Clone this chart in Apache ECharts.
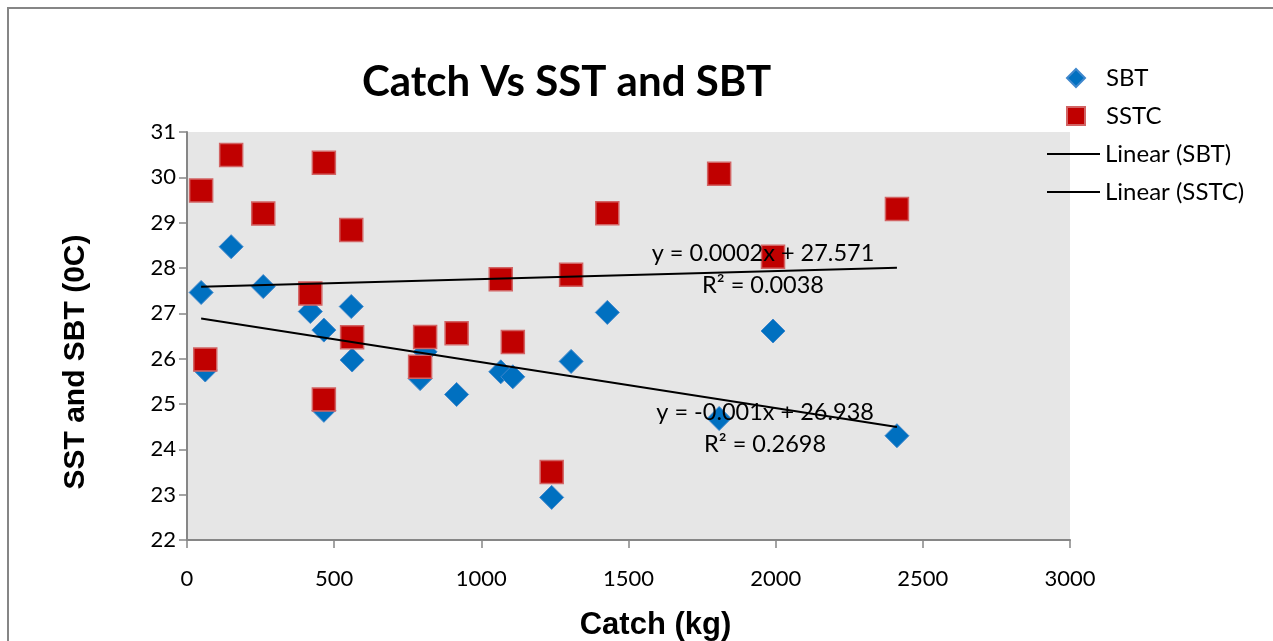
<!DOCTYPE html>
<html>
<head>
<meta charset="utf-8">
<title>Catch Vs SST and SBT</title>
<script src="https://cdn.jsdelivr.net/npm/echarts@6/dist/echarts.min.js"></script>
<style>
  html, body { margin: 0; padding: 0; background: #fff; }
  #chart { width: 1273px; height: 641px; }
</style>
</head>
<body>
<div id="chart"></div>
<script>
// catch (kg) per haul, shared by both temperature series
var catchKg = [48, 62, 150, 259, 419, 465, 465, 558, 561, 792, 809, 916, 1066, 1107, 1239, 1305, 1428, 1808, 1991, 2412];
// bottom temperature
var sbt = [27.46, 25.75, 28.47, 27.59, 27.04, 26.63, 24.86, 27.15, 25.97, 25.56, 26.15, 25.21, 25.71, 25.60, 22.94, 25.94, 27.02, 24.68, 26.61, 24.30];
// surface temperature
var sstc = [29.71, 25.98, 30.49, 29.20, 27.44, 30.32, 25.10, 28.84, 26.47, 25.82, 26.48, 26.56, 27.75, 26.37, 23.50, 27.85, 29.21, 30.08, 28.25, 29.30];

var xTicks = [0, 500, 1000, 1500, 2000, 2500, 3000];
var yTicks = [22, 23, 24, 25, 26, 27, 28, 29, 30, 31];

// equation text as printed next to the trend lines
var sbtEq = 'y = -0.001x + 26.938\nR² = 0.2698';
var sstcEq = 'y = 0.0002x + 27.571\nR² = 0.0038';

function pairs(xs, ys) {
  return xs.map(function (x, i) { return [x, ys[i]]; });
}

// least squares fit, drawn from the smallest to the largest catch
function trend(xs, ys) {
  var n = xs.length, mx = 0, my = 0, sxy = 0, sxx = 0;
  for (var i = 0; i < n; i++) { mx += xs[i]; my += ys[i]; }
  mx /= n; my /= n;
  for (var j = 0; j < n; j++) {
    sxy += (xs[j] - mx) * (ys[j] - my);
    sxx += (xs[j] - mx) * (xs[j] - mx);
  }
  var b = sxy / sxx, a = my - b * mx;
  var x0 = Math.min.apply(null, xs), x1 = Math.max.apply(null, xs);
  return [[x0, a + b * x0], [x1, a + b * x1]];
}

var labelFont = { fontFamily: 'Lato', fontSize: 23.5, color: '#000', lineHeight: 32 };

function eqPoint(coord, text) {
  return {
    symbol: 'circle',
    symbolSize: 0,
    silent: true,
    label: Object.assign({ show: true, position: 'inside', align: 'center', formatter: text }, labelFont),
    data: [{ coord: coord }]
  };
}

// legend glyph for the trend lines: a plain stroke
var lineIcon = 'path://M0,0 L53,0 L53,2 L0,2 Z';
var legendText = { fontFamily: 'Lato', fontSize: 24, color: '#000', lineHeight: 24 };

var chart = echarts.init(document.getElementById('chart'));

var option = {
  animation: false,
  textStyle: { fontFamily: 'Lato' },
  graphic: [{
    type: 'rect',
    z: -10,
    shape: { x: 8, y: 8, width: 1400, height: 800 },
    style: { fill: 'none', stroke: '#868686', lineWidth: 2 }
  }],
  title: {
    text: 'Catch Vs SST and SBT',
    left: 357,
    top: 56,
    textStyle: { fontFamily: 'Lato', fontWeight: 'bold', fontSize: 42, color: '#000' }
  },
  legend: [
    {
      // markers: small square box so the symbols keep their shape
      orient: 'vertical',
      left: 1061,
      top: 61,
      itemWidth: 18,
      itemHeight: 18,
      itemGap: 14,
      textStyle: Object.assign({ padding: [0, 0, 0, 16] }, legendText),
      data: [
        { name: 'SBT', icon: 'diamond' },
        { name: 'SSTC', icon: 'rect' }
      ]
    },
    {
      orient: 'vertical',
      left: 1042,
      top: 137,
      itemWidth: 53,
      itemHeight: 17,
      itemGap: 14,
      textStyle: legendText,
      data: [
        { name: 'Linear (SBT)', icon: lineIcon },
        { name: 'Linear (SSTC)', icon: lineIcon }
      ]
    }
  ],
  grid: {
    left: 187, right: 203, top: 132, bottom: 101,
    outerBoundsMode: 'none',
    show: true, backgroundColor: '#e6e6e6', borderWidth: 0
  },
  xAxis: {
    type: 'value',
    min: xTicks[0],
    max: xTicks[xTicks.length - 1],
    interval: 500,
    name: 'Catch (kg)',
    nameLocation: 'middle',
    nameGap: 70,
    nameTextStyle: { fontFamily: 'Liberation Sans', fontWeight: 'bold', fontSize: 31, color: '#000', padding: [0, 0, 0, 54] },
    axisLine: { lineStyle: { color: '#868686', width: 2 } },
    axisTick: { show: true, length: 8, lineStyle: { color: '#868686', width: 1.5 } },
    axisLabel: { fontFamily: 'Lato', fontSize: 22, color: '#000', margin: 28, formatter: function (v) { return String(v); } },
    splitLine: { show: false }
  },
  yAxis: {
    type: 'value',
    min: yTicks[0],
    max: yTicks[yTicks.length - 1],
    interval: 1,
    name: 'SST and SBT (0C)',
    nameLocation: 'middle',
    nameGap: 96,
    nameTextStyle: { fontFamily: 'Liberation Sans', fontWeight: 'bold', fontSize: 30, color: '#000', padding: [0, 52, 0, 0] },
    axisLine: { show: true, lineStyle: { color: '#868686', width: 2 } },
    axisTick: { show: true, length: 8, lineStyle: { color: '#868686', width: 1.5 } },
    axisLabel: { fontFamily: 'Lato', fontSize: 22, color: '#000', margin: 11, formatter: function (v) { return String(v); } },
    splitLine: { show: false }
  },
  series: [
    {
      name: 'SBT',
      type: 'scatter',
      symbol: 'diamond',
      symbolSize: 24,
      itemStyle: { color: '#0070c0', borderColor: '#3f87cc', borderWidth: 1, opacity: 1 },
      data: pairs(catchKg, sbt),
      z: 2
    },
    {
      name: 'SSTC',
      type: 'scatter',
      symbol: 'rect',
      symbolSize: 23,
      itemStyle: { color: '#c00000', borderColor: '#d26464', borderWidth: 1.5, opacity: 1 },
      data: pairs(catchKg, sstc),
      z: 3
    },
    {
      name: 'Linear (SBT)',
      type: 'line',
      symbol: 'none',
      lineStyle: { color: '#000', width: 2 },
      itemStyle: { color: '#000' },
      data: trend(catchKg, sbt),
      markPoint: eqPoint([1964, 24.46], sbtEq),
      z: 4
    },
    {
      name: 'Linear (SSTC)',
      type: 'line',
      symbol: 'none',
      lineStyle: { color: '#000', width: 2 },
      itemStyle: { color: '#000' },
      data: trend(catchKg, sstc),
      markPoint: eqPoint([1957, 27.96], sstcEq),
      z: 4
    }
  ]
};

chart.setOption(option);
</script>
</body>
</html>
